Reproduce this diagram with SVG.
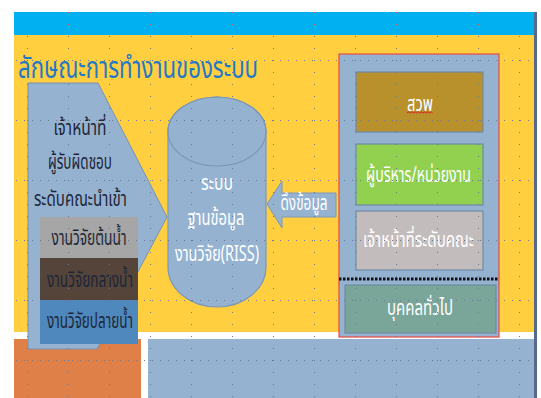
<svg xmlns="http://www.w3.org/2000/svg" width="541" height="398" viewBox="0 0 541 398">
<defs>
<style>
.t{font-family:"Noto Sans","Noto Sans Thai","DejaVu Sans",sans-serif;text-anchor:middle}
.dk{fill:#1E2638;font-size:21px}
.wh{fill:#FFFFFF;font-size:21px}
.box{stroke:#6F8AA6;stroke-width:1.2}
</style>
<pattern id="g1" patternUnits="userSpaceOnUse" x="27" y="0" width="41" height="12"><rect width="1" height="1" fill="#6A7898"/></pattern>
<pattern id="g2" patternUnits="userSpaceOnUse" x="0" y="0" width="8" height="60"><rect width="1" height="1" fill="#6A7898"/></pattern>
<pattern id="g3" patternUnits="userSpaceOnUse" x="27" y="0" width="41" height="12"><rect width="1" height="1" fill="#E0603A"/></pattern>
</defs>
<rect width="541" height="398" fill="#FFFFFF"/>
<g id="background">
<rect x="14" y="12" width="521" height="23" fill="#00B0F0"/>
<rect x="14" y="35" width="520" height="297" fill="#FFCF40"/>
<rect x="14" y="339" width="127" height="59" fill="#DE8048"/>
<rect x="148" y="339" width="386" height="59" fill="#95B3D1"/>
<rect x="534" y="12" width="3" height="386" fill="#56698A"/>
</g>
<g id="title"><text x="138" y="78" class="t" fill="#2478C8" font-size="31" textLength="240" lengthAdjust="spacingAndGlyphs">ลักษณะการทำงานของระบบ</text></g>
<g id="staff">
<path d="M28,83 L98,83 L167,217 L97,349 L28,349 Z" fill="#95B3D1" stroke="#7890B0" stroke-width="1"/>
<text x="80" y="135" class="t dk" textLength="53" lengthAdjust="spacingAndGlyphs">เจ้าหน้าที่</text>
<text x="80" y="169" class="t dk" textLength="64" lengthAdjust="spacingAndGlyphs">ผู้รับผิดชอบ</text>
<text x="80.5" y="206" class="t dk" textLength="93" lengthAdjust="spacingAndGlyphs">ระดับคณะนำเข้า</text>
</g>
<g id="upstream"><rect x="40" y="217" width="98" height="41" fill="#A6A6A6"/><text x="89" y="245" class="t dk" textLength="75" lengthAdjust="spacingAndGlyphs">งานวิจัยต้นน้ำ</text></g>
<g id="midstream"><rect x="40" y="258" width="98" height="42" fill="#54443A"/><text x="90" y="287" class="t dk" textLength="86" lengthAdjust="spacingAndGlyphs">งานวิจัยกลางน้ำ</text></g>
<g id="downstream"><rect x="40" y="300" width="98" height="44" fill="#4F88BC"/><text x="90" y="328" class="t dk" textLength="86" lengthAdjust="spacingAndGlyphs">งานวิจัยปลายน้ำ</text></g>
<g id="riss">
<path d="M168,131.5 L168,267 A49,40 0 0 0 266,267 L266,131.5 A49,34.5 0 0 0 168,131.5 Z" fill="#95B3D1" stroke="#7A97B8" stroke-width="1.2"/>
<ellipse cx="217" cy="131.5" rx="49" ry="34.5" fill="none" stroke="#7A97B8" stroke-width="1.2"/>
<text x="217" y="190" class="t wh" textLength="32" lengthAdjust="spacingAndGlyphs">ระบบ</text>
<text x="216" y="225" class="t wh" textLength="57" lengthAdjust="spacingAndGlyphs">ฐานข้อมูล</text>
<text x="217" y="261" class="t wh" textLength="84" lengthAdjust="spacingAndGlyphs">งานวิจัย(RISS)</text>
</g>
<g id="connectors">
<g id="pull">
<path d="M267,204 L282,181 L282,193 L336,193 L336,217 L282,217 L282,228 Z" fill="#95B3D1" stroke="#7A97B8" stroke-width="1"/>
<text x="304" y="210" class="t wh" font-size="19" textLength="47" lengthAdjust="spacingAndGlyphs">ดึงข้อมูล</text>
</g>
</g>
<g id="users">
<rect x="339" y="54" width="160" height="283" fill="#95B3D1" stroke="#E84A3C" stroke-width="1.2"/>
<line x1="339" y1="279" x2="499" y2="279" stroke="#111" stroke-width="3" stroke-dasharray="2.5,1.5"/>
</g>
<g id="svp"><rect x="356" y="72" width="127" height="60" fill="#B8902C" class="box"/><text x="420" y="111" class="t wh" fill="#F4ECD8" textLength="26" lengthAdjust="spacingAndGlyphs">สวพ</text><path d="M407,113 l1.6,-1.2 l1.6,1.2 l1.6,-1.2 l1.6,1.2 l1.6,-1.2 l1.6,1.2 l1.6,-1.2 l1.6,1.2 l1.6,-1.2 l1.6,1.2 l1.6,-1.2 l1.6,1.2 l1.6,-1.2 l1.6,1.2 l1.6,-1.2 l1.6,1.2" fill="none" stroke="#E02020" stroke-width="1"/></g>
<g id="exec"><rect x="356" y="144" width="127" height="61" fill="#92D050" class="box"/><text x="418.5" y="182" class="t wh" textLength="105" lengthAdjust="spacingAndGlyphs">ผู้บริหาร/หน่วยงาน</text></g>
<g id="faculty"><rect x="356" y="211" width="127" height="59" fill="#C3BCBC" class="box"/><text x="418.5" y="247" class="t wh" textLength="111" lengthAdjust="spacingAndGlyphs">เจ้าหน้าที่ระดับคณะ</text></g>
<g id="public"><rect x="345" y="285" width="151" height="48" fill="#7AA69A" class="box"/><text x="420" y="315" class="t wh" textLength="66" lengthAdjust="spacingAndGlyphs">บุคคลทั่วไป</text></g>
<g id="grid">
<rect x="14" y="12" width="520" height="23" fill="url(#g3)"/>
<rect x="14" y="36" width="520" height="362" fill="url(#g1)"/>
<rect x="16" y="36" width="518" height="362" fill="url(#g2)"/>
</g>
</svg>
